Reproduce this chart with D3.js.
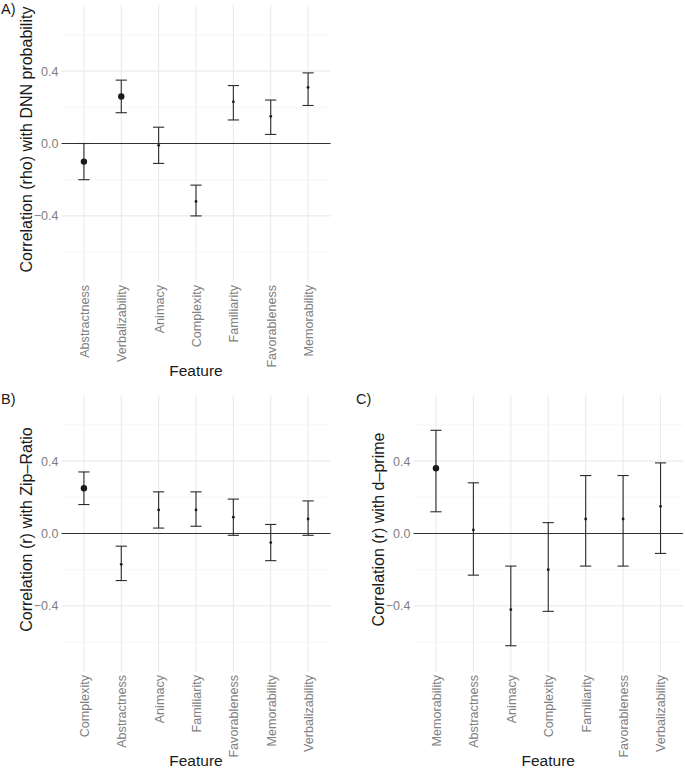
<!DOCTYPE html>
<html><head><meta charset="utf-8">
<script src="https://cdn.jsdelivr.net/npm/d3@7"></script>
<style>body{margin:0;background:#fff;} svg{display:block;font-family:"Liberation Sans",Arial,sans-serif;}</style>
</head><body>
<svg id="chart" width="685" height="768"></svg>
<script>
// Panel A: Correlation (rho) with DNN probability
const catsA = ["Abstractness","Verbalizability","Animacy","Complexity","Familiarity","Favorableness","Memorability"];
const estA  = [-0.10, 0.26, -0.01, -0.32, 0.23, 0.15, 0.31];
const loA   = [-0.20, 0.17, -0.11, -0.40, 0.13, 0.05, 0.21];
const hiA   = [ 0.00, 0.35,  0.09, -0.23, 0.32, 0.24, 0.39];
const bigA  = [true, true, false, false, false, false, false];

// Panel B: Correlation (r) with Zip-Ratio
const catsB = ["Complexity","Abstractness","Animacy","Familiarity","Favorableness","Memorability","Verbalizability"];
const estB  = [0.25, -0.17, 0.13, 0.13, 0.09, -0.05, 0.08];
const loB   = [0.16, -0.26, 0.03, 0.04, -0.01, -0.15, -0.01];
const hiB   = [0.34, -0.07, 0.23, 0.23, 0.19, 0.05, 0.18];
const bigB  = [true, false, false, false, false, false, false];

// Panel C: Correlation (r) with d-prime
const catsC = ["Memorability","Abstractness","Animacy","Complexity","Familiarity","Favorableness","Verbalizability"];
const estC  = [0.36, 0.02, -0.42, -0.20, 0.08, 0.08, 0.15];
const loC   = [0.12, -0.23, -0.62, -0.43, -0.18, -0.18, -0.11];
const hiC   = [0.57, 0.28, -0.18, 0.06, 0.32, 0.32, 0.39];
const bigC  = [true, false, false, false, false, false, false];

const yTicks = [-0.4, 0.0, 0.4];
const yMinor = [-0.6, -0.2, 0.2, 0.6];
const yDomain = [-0.765, 0.765];

const svg = d3.select("#chart");

function panel(cfg) {
  const g = svg.append("g");
  const x = d3.scalePoint().domain(cfg.cats).range([cfg.left, cfg.right]).padding(0.6);
  const y = d3.scaleLinear().domain(yDomain).range([cfg.bottom, cfg.top]);

  // minor grid
  g.selectAll(".minor").data(yMinor).join("line")
    .attr("x1", cfg.left).attr("x2", cfg.right)
    .attr("y1", d => y(d)).attr("y2", d => y(d))
    .attr("stroke", "#f2f2f2").attr("stroke-width", 0.7);
  // major grid
  g.selectAll(".major").data(yTicks).join("line")
    .attr("x1", cfg.left).attr("x2", cfg.right)
    .attr("y1", d => y(d)).attr("y2", d => y(d))
    .attr("stroke", "#ebebeb").attr("stroke-width", 1.1);
  g.selectAll(".vgrid").data(cfg.cats).join("line")
    .attr("x1", d => x(d)).attr("x2", d => x(d))
    .attr("y1", cfg.top).attr("y2", cfg.bottom)
    .attr("stroke", "#ebebeb").attr("stroke-width", 1.1);

  // y axis tick labels
  const yAxis = d3.axisLeft(y).tickValues(yTicks).tickSize(0).tickPadding(3)
    .tickFormat(d => d === 0 ? "0.0" : (d < 0 ? "\u2212" + Math.abs(d).toFixed(1) : d.toFixed(1)));
  const ya = g.append("g").attr("transform", `translate(${cfg.left},0)`).call(yAxis);
  ya.select(".domain").remove();
  ya.selectAll("text").attr("fill", "#808080").style("font-size", "12.5px")
    .style("font-family", '"Liberation Sans",Arial,sans-serif');

  // x axis tick labels
  const xAxis = d3.axisBottom(x).tickSize(0).tickPadding(0);
  const xa = g.append("g").attr("transform", `translate(0,${cfg.bottom})`).call(xAxis);
  xa.select(".domain").remove();
  xa.selectAll("text")
    .attr("fill", "#808080").style("font-size", "12.6px")
    .style("font-family", '"Liberation Sans",Arial,sans-serif')
    .attr("text-anchor", "end").attr("dy", "0.35em")
    .attr("transform", "translate(0,3) rotate(-90)")
    .attr("x", 0).attr("y", 0);

  // zero line
  g.append("line").attr("x1", cfg.left).attr("x2", cfg.right)
    .attr("y1", y(0)).attr("y2", y(0)).attr("stroke", "#333").attr("stroke-width", 1.1);

  // error bars
  const cap = 5.6;
  const idx = d3.range(cfg.cats.length);
  const eb = g.selectAll(".eb").data(idx).join("g");
  eb.append("line").attr("x1", i => x(cfg.cats[i])).attr("x2", i => x(cfg.cats[i]))
    .attr("y1", i => y(cfg.lo[i])).attr("y2", i => y(cfg.hi[i]))
    .attr("stroke", "#2b2b2b").attr("stroke-width", 1.1);
  eb.append("line").attr("x1", i => x(cfg.cats[i]) - cap).attr("x2", i => x(cfg.cats[i]) + cap)
    .attr("y1", i => y(cfg.lo[i])).attr("y2", i => y(cfg.lo[i]))
    .attr("stroke", "#2b2b2b").attr("stroke-width", 1.1);
  eb.append("line").attr("x1", i => x(cfg.cats[i]) - cap).attr("x2", i => x(cfg.cats[i]) + cap)
    .attr("y1", i => y(cfg.hi[i])).attr("y2", i => y(cfg.hi[i]))
    .attr("stroke", "#2b2b2b").attr("stroke-width", 1.1);
  eb.append("circle").attr("cx", i => x(cfg.cats[i])).attr("cy", i => y(cfg.est[i]))
    .attr("r", i => cfg.big[i] ? 3.2 : 1.4).attr("fill", "#1a1a1a");

  // titles
  g.append("text").attr("transform", `translate(${cfg.ytx},${(cfg.top + cfg.bottom) / 2 - 4}) rotate(-90)`)
    .attr("text-anchor", "middle").attr("dy", "0.35em")
    .style("font-size", "16px").attr("fill", "#1a1a1a").text(cfg.ytitle);
  g.append("text").attr("x", (cfg.left + cfg.right) / 2).attr("y", cfg.xty)
    .attr("text-anchor", "middle").style("font-size", "15.5px").attr("fill", "#1a1a1a").text("Feature");
  g.append("text").attr("x", cfg.lx).attr("y", cfg.ly)
    .style("font-size", "14.5px").attr("fill", "#1a1a1a").text(cfg.label);
}

panel({cats: catsA, est: estA, lo: loA, hi: hiA, big: bigA,
  left: 61.5, right: 330.5, top: 5, bottom: 282,
  ytitle: "Correlation (rho) with DNN probability", ytx: 26, xty: 375.5,
  label: "A)", lx: 1, ly: 14});
panel({cats: catsB, est: estB, lo: loB, hi: hiB, big: bigB,
  left: 61.5, right: 330.5, top: 395, bottom: 672,
  ytitle: "Correlation (r) with Zip\u2013Ratio", ytx: 26, xty: 765.5,
  label: "B)", lx: 1, ly: 404});
panel({cats: catsC, est: estC, lo: loC, hi: hiC, big: bigC,
  left: 413.5, right: 683, top: 395, bottom: 672,
  ytitle: "Correlation (r) with d\u2013prime", ytx: 378, xty: 765.5,
  label: "C)", lx: 356, ly: 404});
</script>
</body></html>
